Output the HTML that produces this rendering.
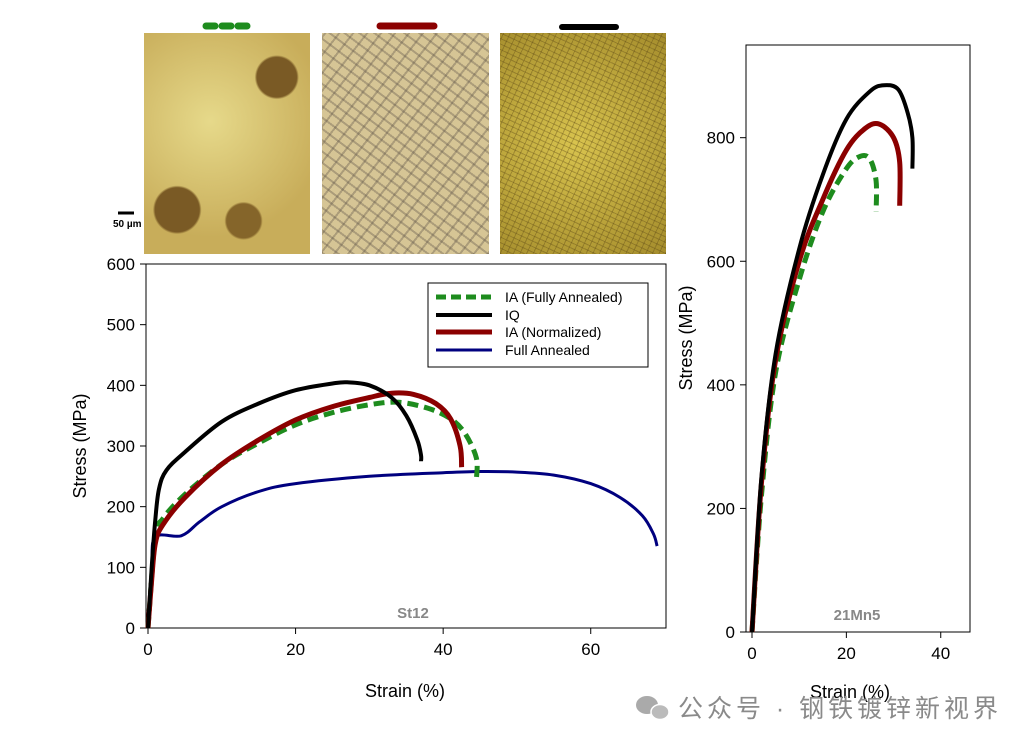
<!DOCTYPE html>
<html><head><meta charset="utf-8"><style>
body{margin:0;background:#fff;width:1030px;height:748px;overflow:hidden;font-family:"Liberation Sans","Noto Sans CJK SC",sans-serif}
.img{position:absolute;top:33px;height:221px}
</style></head><body>
<div class="img" style="left:144px;width:166px;background:radial-gradient(circle at 80% 20%,#7a5a25 0 9%,transparent 10%),radial-gradient(circle at 20% 80%,#7a5a25 0 10%,transparent 11%),radial-gradient(circle at 60% 85%,#85652a 0 8%,transparent 9%),radial-gradient(circle at 40% 40%,#e6d98a,#c8ad5a 70%);"></div>
<div class="img" style="left:322px;width:167px;background:repeating-linear-gradient(37deg,rgba(90,80,70,.35) 0 2px,transparent 2px 9px),repeating-linear-gradient(-52deg,rgba(90,80,70,.35) 0 2px,transparent 2px 11px),#d6c595;"></div>
<div class="img" style="left:500px;width:166px;background:repeating-linear-gradient(25deg,rgba(90,70,20,.35) 0 1px,transparent 1px 5px),repeating-linear-gradient(-65deg,rgba(90,70,20,.35) 0 1px,transparent 1px 6px),radial-gradient(circle at 45% 50%,#d8c34e,#a48c2c);"></div>
<svg width="1030" height="748" style="position:absolute;left:0;top:0" font-family="Liberation Sans, sans-serif">
<g>
<line x1="206" y1="26" x2="252" y2="26" stroke="#1e8c1e" stroke-width="7" stroke-linecap="round" stroke-dasharray="9 7"/>
<line x1="380" y1="26" x2="434" y2="26" stroke="#8b0000" stroke-width="7" stroke-linecap="round"/>
<line x1="562" y1="27" x2="616" y2="27" stroke="#000" stroke-width="6" stroke-linecap="round"/>
<line x1="118" y1="213" x2="134" y2="213" stroke="#000" stroke-width="3"/>
<text x="113" y="227" font-size="10" font-weight="bold">50 µm</text>
</g>
<g id="main"></g><g id="right"></g>
<rect x="428" y="283" width="220" height="84" fill="#fff" stroke="#000" stroke-width="1"/>
<g font-size="14">
<line x1="436" y1="297" x2="492" y2="297" stroke="#1e8c1e" stroke-width="5" stroke-dasharray="10 5"/><text x="505" y="302">IA (Fully Annealed)</text>
<line x1="436" y1="315" x2="492" y2="315" stroke="#000" stroke-width="4"/><text x="505" y="320">IQ</text>
<line x1="436" y1="332" x2="492" y2="332" stroke="#8b0000" stroke-width="5"/><text x="505" y="337">IA (Normalized)</text>
<line x1="436" y1="350" x2="492" y2="350" stroke="#00007f" stroke-width="3"/><text x="505" y="355">Full Annealed</text>
</g>
<text x="405" y="697" font-size="18" text-anchor="middle">Strain (%)</text>
<text transform="translate(86,446) rotate(-90)" font-size="18" text-anchor="middle">Stress (MPa)</text>
<text x="413" y="618" font-size="15" font-weight="bold" fill="#888" text-anchor="middle">St12</text>
<text x="850" y="698" font-size="18" text-anchor="middle">Strain (%)</text>
<text transform="translate(692,338) rotate(-90)" font-size="18" text-anchor="middle">Stress (MPa)</text>
<text x="857" y="620" font-size="15" font-weight="bold" fill="#888" text-anchor="middle">21Mn5</text>
<g>
<ellipse cx="647" cy="705" rx="11" ry="9" fill="#aaa"/><ellipse cx="660" cy="712" rx="9" ry="7.5" fill="#bbb" stroke="#fff" stroke-width="1.5"/>
<text x="678" y="717" font-size="25" fill="#8a8a8a" textLength="320" lengthAdjust="spacing" font-family="Liberation Sans, Noto Sans CJK SC, sans-serif">公众号 · 钢铁镀锌新视界</text>
</g>
</svg>
<script>
const ns="http://www.w3.org/2000/svg";
// Main chart (St12) data
const xTicksMain=[0,20,40,60];
const yTicksMain=[0,100,200,300,400,500,600];
const iqStrain=[0,0.5,1,1.5,2.5,5,10,15,20,25,27,30,33,35,36.5,37,37];
const iqStress=[0,100,180,230,260,290,340,370,392,403,405,400,380,350,310,285,275];
const normStrain=[0,0.5,1,2,5,10,15,20,25,30,33,36,39,41,42.3,42.5];
const normStress=[0,80,140,170,215,270,310,343,365,380,387,385,370,345,300,265];
const faStrain=[0,1,2,5,10,15,20,25,30,34,38,41,43,44.5,44.5];
const faStress=[0,150,180,220,270,305,335,355,368,372,362,345,320,280,245];
const fullStrain=[0,0.5,1,4.5,7,10,15,20,30,40,45,50,55,60,64,67,68.5,69];
const fullStress=[0,100,150,152,175,200,225,238,250,256,258,257,252,238,215,185,155,135];
// Right chart (21Mn5) data
const xTicksR=[0,20,40];
const yTicksR=[0,200,400,600,800];
const rIqStrain=[0,2,5,10,15,20,25,28,31,33,34,34];
const rIqStress=[0,250,450,620,740,830,875,885,878,840,800,750];
const rNormStrain=[0,2,5,10,15,20,24,27,30,31.3,31.3];
const rNormStress=[0,240,440,600,700,780,815,822,800,760,690];
const rFaStrain=[0,2,5,10,15,20,23,25,26.3,26.3];
const rFaStress=[0,220,420,570,680,750,770,765,730,680];

function el(p,t,a){const e=document.createElementNS(ns,t);for(const k in a)e.setAttribute(k,a[k]);p.appendChild(e);return e;}
function smooth(pts){
  let d="M"+pts[0][0].toFixed(1)+","+pts[0][1].toFixed(1);
  for(let i=0;i<pts.length-1;i++){
    const p0=pts[Math.max(0,i-1)],p1=pts[i],p2=pts[i+1],p3=pts[Math.min(pts.length-1,i+2)];
    const c1=[p1[0]+(p2[0]-p0[0])/6,p1[1]+(p2[1]-p0[1])/6];
    const c2=[p2[0]-(p3[0]-p1[0])/6,p2[1]-(p3[1]-p1[1])/6];
    d+="C"+c1.map(v=>v.toFixed(1))+" "+c2.map(v=>v.toFixed(1))+" "+p2.map(v=>v.toFixed(1));
  }
  return d;
}
function chart(g,box,xr,yr,xt,yt,series){
  const sx=v=>box.x0+(v-xr[0])/(xr[1]-xr[0])*(box.x1-box.x0);
  const sy=v=>box.y1-(v-yr[0])/(yr[1]-yr[0])*(box.y1-box.y0);
  const r=el(g,"rect",{x:box.x0,y:box.y0,width:box.x1-box.x0,height:box.y1-box.y0,fill:"none",stroke:"#000","stroke-width":1});
  
  
  xt.forEach(v=>{el(g,"line",{x1:sx(v),x2:sx(v),y1:box.y1,y2:box.y1+6,stroke:"#000"});
    const t=el(g,"text",{x:sx(v),y:box.y1+27,"font-size":17,"text-anchor":"middle"});t.textContent=v;
    
    });
  yt.forEach(v=>{el(g,"line",{x1:box.x0-6,x2:box.x0,y1:sy(v),y2:sy(v),stroke:"#000"});
    const t=el(g,"text",{x:box.x0-11,y:sy(v)+6,"font-size":17,"text-anchor":"end"});t.textContent=v;
    
    });
  series.forEach(s=>{
    const pts=s.x.map((v,i)=>[sx(v),sy(s.y[i])]);
    const p=el(g,"path",{d:smooth(pts),fill:"none",stroke:s.c,"stroke-width":s.w,"stroke-linejoin":"round","stroke-dasharray":s.dash||"none"});
    
    
  });
}
chart(document.getElementById("main"),{x0:146,x1:666,y0:264,y1:628},[-0.27,70.2],[0,600],xTicksMain,yTicksMain,[
 {x:fullStrain,y:fullStress,c:"#00007f",w:3,n:"line-full-annealed"},
 {x:faStrain,y:faStress,c:"#1e8c1e",w:5,dash:"11 6",n:"line-ia-fully-annealed"},
 {x:normStrain,y:normStress,c:"#8b0000",w:5,n:"line-ia-normalized"},
 {x:iqStrain,y:iqStress,c:"#000",w:4,n:"line-iq"}]);
chart(document.getElementById("right"),{x0:746,x1:970,y0:45,y1:632},[-1.27,46.2],[0,950],xTicksR,yTicksR,[
 {x:rFaStrain,y:rFaStress,c:"#1e8c1e",w:5,dash:"11 6",n:"right-line-ia-fully-annealed"},
 {x:rNormStrain,y:rNormStress,c:"#8b0000",w:5,n:"right-line-ia-normalized"},
 {x:rIqStrain,y:rIqStress,c:"#000",w:4,n:"right-line-iq"}]);
</script>
</body></html>
